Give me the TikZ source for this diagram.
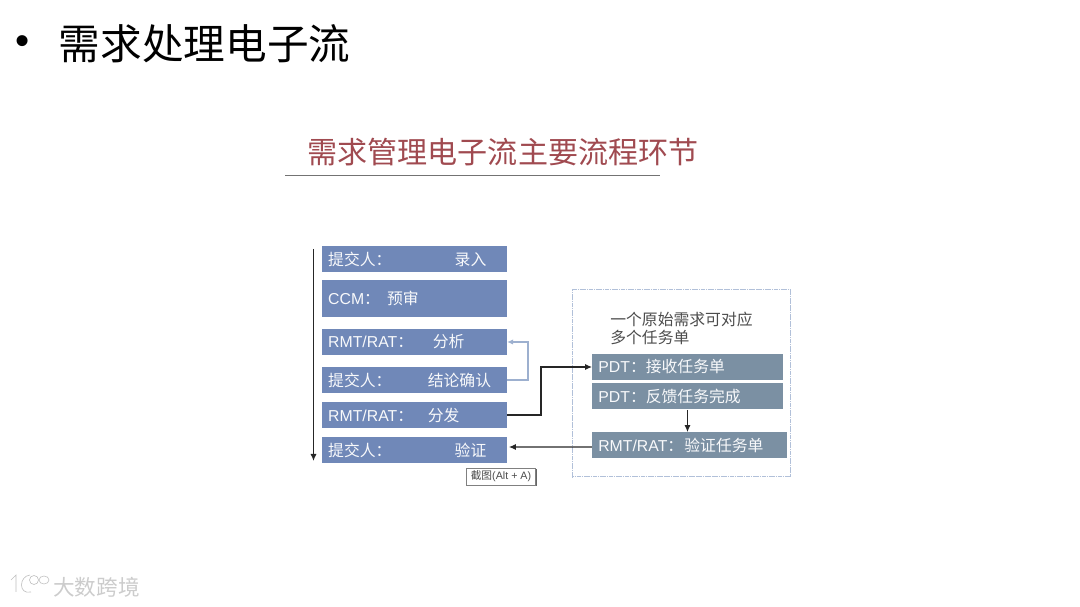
\documentclass[tikz,border=0pt]{standalone}
\usepackage{xcolor}
\usepackage{fontspec}
\setmainfont{Liberation Sans}
\newfontfamily\cjk{Noto Sans CJK SC}
\usetikzlibrary{arrows.meta,shadows}
\definecolor{stageblue}{HTML}{7088B8}
\definecolor{taskslate}{HTML}{7B90A3}
\definecolor{titlered}{HTML}{A04A50}
\definecolor{backblue}{HTML}{9DB0CF}

\begin{document}
\begin{tikzpicture}[
  x=0.02cm, y=-0.02cm,
  stage/.style={fill=stageblue, text=white!95!stageblue, font=\fontsize{9}{10}\selectfont, align=left, text width=98.2pt, inner xsep=3.4pt, inner ysep=0pt, minimum height=14.8pt},
  task/.style={stage, fill=taskslate, text width=101.4pt},
  taskwide/.style={task, text width=103.8pt},
  arr/.style={-{Latex[length=4pt,width=3.5pt]}, line width=0.7pt, black!85},
  backarr/.style={-{Latex[length=3.5pt,width=3pt]}, line width=0.6pt, backblue}
]
\useasboundingbox (0,0) rectangle (1080,607);

% slide heading
\node[font=\fontsize{23}{25}\selectfont] (bullet) at (23,45) {•};
\node[font=\fontsize{23.7}{25}\cjk, anchor=west, inner xsep=0pt] (heading) at (58.5,44) {需求处理电子流};

% chart title
\node[font=\fontsize{17.1}{20}\cjk, text=titlered] (charttitle) at (503,152) {需求管理电子流主要流程环节};
\coordinate (ruleleft) at (285,175.5);
\coordinate (ruleright) at (660,175.5);
\draw[black!55, line width=0.7pt] (ruleleft) -- (ruleright);

% left column
\node[stage] (enter) at (414.5,259) {\makebox[72pt][l]{\cjk 提交人：}{\cjk 录入}};
\node[stage, minimum height=21pt] (precheck) at (414.5,298.5) {\makebox[33.5pt][l]{CCM{\cjk ：}}{\cjk 预审}};
\node[stage] (analyse) at (414.5,342) {\makebox[59.5pt][l]{RMT/RAT{\cjk ：}}{\cjk 分析}};
\node[stage] (confirm) at (414.5,380) {\makebox[56.7pt][l]{\cjk 提交人：}{\cjk 结论确认}};
\node[stage] (dispatch) at (414.5,415) {\makebox[56.7pt][l]{RMT/RAT{\cjk ：}}{\cjk 分发}};
\node[stage] (verify) at (414.5,450) {\makebox[72pt][l]{\cjk 提交人：}{\cjk 验证}};

\coordinate (flowtop) at (313.5,249);
\coordinate (flowend) at (313.5,461);
\draw[arr] (flowtop) -- (flowend);

% right panel
\node[draw=backblue!80, dash pattern=on 1pt off 0.3pt, line width=0.6pt, minimum width=219*0.567pt, minimum height=188*0.567pt, inner sep=0pt] (panel) at (681.5,383) {};
\node[font=\fontsize{9}{10.2}\cjk, text=black!70, align=left, anchor=west, inner sep=0pt] (note) at (610,328) {一个原始需求可对应\\多个任务单};

\node[task] (receive) at (687.5,367) {\makebox[27pt][l]{PDT{\cjk ：}}{\cjk 接收任务单}};
\node[task] (feedback) at (687.5,396.5) {\makebox[27pt][l]{PDT{\cjk ：}}{\cjk 反馈任务完成}};
\node[taskwide] (checktask) at (689.5,445.5) {\makebox[49pt][l]{RMT/RAT{\cjk ：}}{\cjk 验证任务单}};

% connectors
\coordinate (backbend) at (528,342);
\draw[backarr] (confirm.east) -| (backbend) -- (analyse.east);
\coordinate (sendbend) at (541,367);
\draw[arr] (dispatch.east) -| (sendbend) -- (receive.west);
\draw[arr] (feedback.south) -- (feedback.south |- checktask.north);
\draw[arr] ([yshift=-0.8pt]checktask.west) -- ([xshift=1pt,yshift=1.7pt]verify.east);

% screenshot tip
\node[draw=gray, fill=white, drop shadow={shadow xshift=0.8pt, shadow yshift=-0.8pt, fill=black, opacity=0.6}, font=\fontsize{6.1}{7}\selectfont, text=black!70, inner sep=0pt, minimum width=39.5pt, minimum height=9.6pt] (tip) at (501,476.5) {{\cjk 截图}(Alt + A)};

% watermark
\begin{scope}[draw=gray!50, double=white, double distance=1.1pt, line width=0.35pt]
  \draw (11,580) -- (16,575) -- (16,592);
  \draw (30,575) .. controls (19,576) and (18,595) .. (31,592);
  \draw (34,580) circle (4.5);
  \draw (44,580) ellipse (5 and 4);
\end{scope}
\node[font=\fontsize{12.3}{14}\cjk, text=gray!40, inner sep=0pt] (mark) at (96.5,587.5) {大数跨境};
\end{tikzpicture}
\end{document}
